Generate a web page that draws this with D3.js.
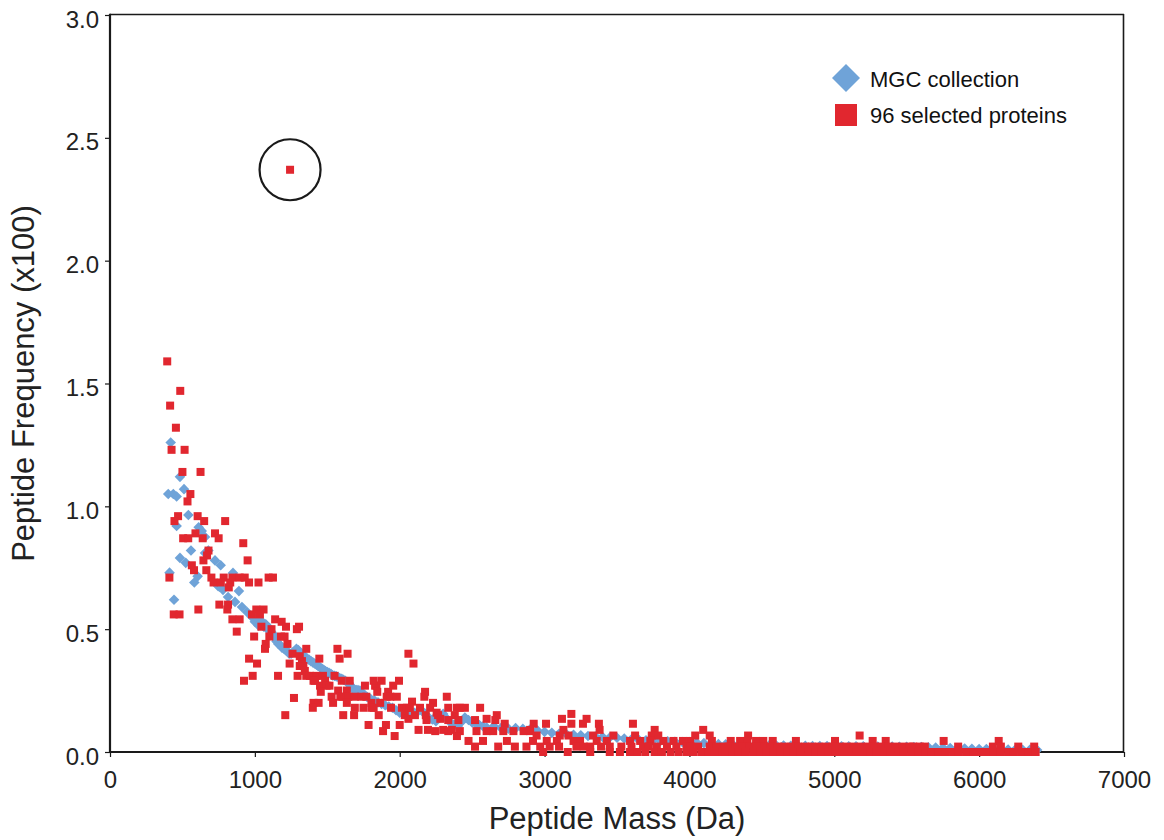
<!DOCTYPE html>
<html>
<head>
<meta charset="utf-8">
<script src="https://cdn.jsdelivr.net/npm/d3@7"></script>
<style>
  html, body { margin: 0; padding: 0; background: #ffffff; }
  svg { display: block; font-family: "Liberation Sans", Arial, Helvetica, sans-serif; }
</style>
</head>
<body>
<svg id="chart" width="1164" height="840"></svg>
<script>
// Axis ticks
const xTicks = [0, 1000, 2000, 3000, 4000, 5000, 6000, 7000];
const yTicks = [0, 0.5, 1.0, 1.5, 2.0, 2.5, 3.0];
const seriesNames = ["MGC collection", "96 selected proteins"];
const xTitle = "Peptide Mass (Da)";
const yTitle = "Peptide Frequency (x100)";

// MGC collection: [peptide mass (Da), frequency (x100)]
const mgcScatter = [
  [402,1.05],[419,1.26],[411,0.73],[437,1.05],[442,0.62],[460,1.04],[460,0.92],[483,1.12],
  [483,0.79],[511,1.07],[523,0.77],[541,0.965],[559,0.82],[582,0.69],[605,0.715],[612,0.915],
  [633,0.90],[656,0.875],[656,0.81],[679,0.82],[725,0.78],[747,0.675],[759,0.672],[764,0.76],
  [780,0.66],[815,0.631],[849,0.729],[863,0.611],[890,0.655],[911,0.59],[946,0.57],[980,0.55]
];
const mgcBand = [
  [1000,0.53],[1012,0.545],[1025,0.515],[1037,0.525],[1050,0.53],[1062,0.51],[1075,0.52],[1087,0.50],
  [1100,0.505],[1112,0.49],[1125,0.48],[1137,0.465],[1150,0.45],[1162,0.44],[1175,0.435],[1187,0.425],
  [1200,0.42],[1212,0.415],[1225,0.41],[1237,0.40],[1250,0.40],[1262,0.405],[1275,0.41],[1287,0.42],
  [1300,0.415],[1312,0.405],[1325,0.40],[1337,0.39],[1350,0.385],[1362,0.38],[1375,0.375],[1387,0.37],
  [1400,0.365],[1412,0.36],[1425,0.355],[1437,0.35],[1450,0.345],[1462,0.34],[1475,0.335],[1487,0.33],
  [1500,0.325],[1512,0.322],[1525,0.318],[1537,0.312],[1550,0.31],[1562,0.308],[1575,0.305],[1587,0.30],
  [1600,0.298],[1612,0.294],[1625,0.29],[1637,0.285],[1650,0.28],[1662,0.268],[1675,0.258],[1687,0.255],
  [1700,0.252],[1712,0.252],[1725,0.25],[1737,0.242],[1750,0.236],[1762,0.23],[1775,0.224],[1787,0.22],
  [1800,0.216],[1825,0.21],[1850,0.202],[1875,0.196],[1900,0.19],[1925,0.185],[1950,0.18],[1975,0.17],
  [2000,0.16],[2025,0.158],[2050,0.155],[2075,0.158],[2100,0.16],[2125,0.165],[2150,0.17],[2175,0.155],
  [2200,0.14],[2225,0.132],[2250,0.125],[2275,0.14],[2300,0.155],[2325,0.135],[2350,0.12],[2375,0.112],
  [2400,0.105],[2425,0.122],[2450,0.14],[2475,0.13],[2500,0.12],[2525,0.115],[2550,0.11],[2575,0.105],
  [2600,0.10],[2650,0.105],[2700,0.098],[2750,0.095],
  [2800,0.097],[2850,0.094],[2900,0.092],[2950,0.088],[3000,0.082],[3050,0.078],[3100,0.074],[3150,0.073],
  [3200,0.07],[3250,0.068],[3300,0.065],[3350,0.063],[3400,0.061],[3450,0.059],[3500,0.058],[3550,0.055],
  [3600,0.052],[3650,0.05],[3700,0.048],[3750,0.047],[3800,0.045],[3850,0.044],[3900,0.042],[3950,0.041],
  [4000,0.04],[4050,0.038],[4100,0.036],[4150,0.034],[4200,0.032],[4250,0.031],[4300,0.03],[4350,0.029],
  [4400,0.028],[4450,0.028],[4500,0.027],[4550,0.027],[4600,0.026],[4650,0.026],[4700,0.025],[4750,0.025],
  [4800,0.025],[4850,0.024],[4900,0.024],[4950,0.024],[5000,0.024],[5050,0.023],[5100,0.023],[5150,0.023],
  [5200,0.023],[5250,0.022],[5300,0.022],[5350,0.022],[5400,0.022],[5450,0.021],[5500,0.021],[5550,0.02],
  [5600,0.02],[5650,0.019],[5700,0.018],[5750,0.017],[5800,0.016],[5850,0.015],[5900,0.014],[5950,0.013],
  [6000,0.012],[6050,0.012],[6100,0.011],[6150,0.011],[6200,0.01],[6250,0.01],[6300,0.009],[6350,0.009],
  [6400,0.008]
];

// 96 selected proteins: [peptide mass (Da), frequency (x100)]
const selectedHead = [
  [395,1.59],[415,1.41],[455,1.32],[485,1.47],[425,1.23],[515,1.23],[500,1.14],[625,1.14],
  [555,1.05],[535,1.02],[470,0.96],[445,0.94],[605,0.96],[650,0.94],[795,0.94],[590,0.89],
  [725,0.89],[505,0.87],[540,0.87],[640,0.87],[750,0.87],[920,0.85],[680,0.82],[670,0.80],
  [645,0.78],[950,0.78],[565,0.76],[580,0.74],[665,0.74],[410,0.71],[700,0.71],[785,0.71],
  [845,0.71],[895,0.71],[930,0.71],[715,0.69],[765,0.69],[830,0.69],[960,0.69],[820,0.67],
  [755,0.60],[815,0.60],[810,0.58],[610,0.58],[440,0.56],[480,0.56],[980,0.56],[845,0.54],
  [895,0.54],[875,0.49],[995,0.47],[960,0.38],[985,0.31],[925,0.29]
];
const selectedBody = [
  [1095,0.71],[1125,0.71],[1025,0.69],[1010,0.58],[1060,0.58],[1035,0.56],[1140,0.54],[1185,0.53],
  [1215,0.51],[1045,0.51],[1290,0.50],[1305,0.51],[1115,0.50],[1100,0.47],[1075,0.44],[1070,0.42],
  [1180,0.47],[1205,0.47],[1225,0.44],[1355,0.42],[1570,0.42],[1260,0.40],[1015,0.36],[1240,0.36],
  [1325,0.37],[1335,0.35],[1310,0.39],[1310,0.35],[1445,0.38],[1585,0.38],[1640,0.40],[1160,0.31],
  [1295,0.31],[1345,0.33],[1355,0.31],[1380,0.31],[1425,0.31],[1470,0.31],[1405,0.29],[1415,0.29],
  [1485,0.29],[1450,0.27],[1495,0.27],[1515,0.27],[1550,0.31],[1600,0.29],[1655,0.29],[1575,0.25],
  [1635,0.25],[1455,0.245],[1270,0.22],[1530,0.225],[1590,0.225],[1605,0.225],[1645,0.225],[1690,0.225],
  [1735,0.225],[1770,0.225],[1405,0.20],[1440,0.20],[1400,0.18],[1540,0.20],[1635,0.20],[1210,0.15],
  [1610,0.15],[1685,0.15],[1760,0.27],[1830,0.27],[1840,0.27],[1820,0.29],[1875,0.29],[1995,0.29],
  [1845,0.245],[1920,0.245],[1955,0.27],[1690,0.18],[1750,0.18],[1805,0.18],[1865,0.20],[1805,0.20],
  [1820,0.18],[1855,0.15],[1910,0.225],[1935,0.225],[1980,0.225],[1940,0.18],[1785,0.11],[1905,0.11],
  [1885,0.085],[1965,0.065]
];
const selectedMid = [
  [2060,0.40],[2095,0.36],[2015,0.18],[2050,0.18],[2085,0.205],[2070,0.18],[2140,0.18],[2105,0.15],
  [2035,0.15],[2175,0.245],[2170,0.225],[2230,0.20],[2210,0.18],[2255,0.16],[2280,0.135],[2325,0.225],
  [2335,0.18],[2395,0.18],[2415,0.18],[2450,0.18],[2555,0.18],[2180,0.15],[2265,0.15],[2380,0.15],
  [2670,0.15],[2405,0.13],[2000,0.11],[2060,0.135],[2185,0.13],[2335,0.13],[2520,0.13],[2600,0.135],
  [2660,0.13],[2725,0.115],[2925,0.115],[2130,0.09],[2195,0.09],[2245,0.085],[2300,0.09],[2335,0.085],
  [2360,0.09],[2415,0.085],[2530,0.085],[2600,0.085],[2645,0.085],[2715,0.085],[2785,0.085],[2855,0.085],
  [2900,0.085],[2395,0.065],[2475,0.045],[2575,0.045],[2740,0.045],[2920,0.045],[2520,0.022],[2680,0.022],
  [2795,0.022],[2875,0.022]
];
const selectedTail = [
  [3185,0.155],[3120,0.135],[3290,0.135],[3010,0.115],[3185,0.115],[3265,0.115],[3375,0.115],[3610,0.115],
  [2900,0.09],[3130,0.09],[3380,0.09],[3760,0.09],[4095,0.09],[2945,0.067],[3105,0.067],[3165,0.067],
  [3335,0.067],[3475,0.067],[3625,0.067],[3740,0.067],[3785,0.067],[4040,0.067],[4140,0.067],
  [3015,0.045],[3085,0.045],[3200,0.045],[3245,0.045],[3360,0.045],[3430,0.045],[3590,0.045],[3660,0.045],
  [3730,0.045],[3820,0.045],[3890,0.045],[3955,0.045],[4005,0.045],[4155,0.045],
  [2970,0.022],[3035,0.022],[3220,0.022],[3315,0.022],[3450,0.022],[3530,0.022],[3680,0.022],[3775,0.022],
  [3845,0.022],[3910,0.022],[3980,0.022],[4060,0.022],[4140,0.022],[4235,0.022],[4010,0.022],[4185,0.022],
  [3600,0.022],[3720,0.022],[3100,0.022],[3270,0.022],[3390,0.022],
  [2990,0],[3315,0],[3520,0],[3590,0],[3695,0],[3760,0],[3925,0],[4085,0],[4210,0],
  [3810,0],[3870,0],[3980,0],[4030,0],[4130,0],[4170,0],[3640,0],[3450,0],[3160,0],
  [4405,0.067],[5175,0.067],
  [4285,0.045],[4350,0.045],[4400,0.045],[4460,0.045],[4510,0.045],[4575,0.045],[4735,0.045],[5005,0.045],
  [5265,0.045],[5355,0.045],[5755,0.045],[6135,0.045],
  [4270,0.022],[4320,0.022],[4365,0.022],[4415,0.022],[4465,0.022],[4515,0.022],[4560,0.022],[4610,0.022],
  [4655,0.022],[4705,0.022],[4750,0.022],[4800,0.022],[4845,0.022],[4895,0.022],[4945,0.022],[4990,0.022],
  [5040,0.022],[5085,0.022],[5135,0.022],[5185,0.022],[5230,0.022],[5280,0.022],[5325,0.022],[5375,0.022],
  [5420,0.022],[5470,0.022],[5520,0.022],[5545,0.022],[5590,0.022],[5625,0.022],[5855,0.022],[6095,0.022],
  [6150,0.022],[6270,0.022],[6380,0.022],
  [4250,0],[4300,0],[4340,0],[4390,0],[4440,0],[4490,0],[4530,0],[4580,0],[4630,0],[4680,0],
  [4720,0],[4770,0],[4820,0],[4870,0],[4910,0],[4960,0],[5010,0],[5060,0],[5100,0],[5150,0],
  [5200,0],[5250,0],[5290,0],[5340,0],[5390,0],[5440,0],[5480,0],[5530,0],[5580,0],[5630,0],
  [5670,0],[5720,0],[5770,0],[5820,0],[5860,0],[5910,0],[5960,0],[6010,0],[6050,0],[6100,0],
  [6150,0],[6200,0],[6240,0],[6290,0],[6340,0],[6390,0]
];
// Single peptide that stands out, ringed on the chart
const highlighted = [1243, 2.37];

const colors = { mgc: "#6fa3d8", selected: "#e1272f", ink: "#1a1a1a" };

const svg = d3.select("#chart");
const plot = { left: 110, right: 1124, top: 15, bottom: 752 };

const x = d3.scaleLinear().domain([0, 7000]).range([plot.left, plot.right]);
const y = d3.scaleLinear().domain([0, 3]).range([plot.bottom, plot.top]);

// Axes
const xAxis = d3.axisBottom(x).tickValues(xTicks).tickSize(5).tickSizeOuter(0).tickPadding(14)
  .tickFormat(d3.format("d"));
const yAxis = d3.axisLeft(y).tickValues(yTicks).tickSize(5).tickSizeOuter(0).tickPadding(6)
  .tickFormat(d3.format(".1f"));

const gx = svg.append("g").attr("transform", `translate(0,${plot.bottom})`).call(xAxis);
const gy = svg.append("g").attr("transform", `translate(${plot.left},0)`).call(yAxis);
[gx, gy].forEach(g => {
  g.select(".domain").remove();
  g.selectAll(".tick line").attr("stroke", colors.ink).attr("stroke-width", 1.2);
  g.selectAll(".tick text").attr("fill", "#222").style("font-size", "24px");
});
gy.selectAll(".tick text").attr("dy", "0.5em");
gx.selectAll(".tick text").attr("dy", "0.71em");

// Plot frame
const frame = svg.append("g").attr("stroke", colors.ink).attr("fill", "none");
frame.append("line").attr("x1", plot.left).attr("x2", plot.right).attr("y1", plot.top - 0.5).attr("y2", plot.top - 0.5).attr("stroke-width", 1.6);
frame.append("line").attr("x1", plot.right - 0.5).attr("x2", plot.right - 0.5).attr("y1", plot.top - 1).attr("y2", plot.bottom).attr("stroke-width", 1.6);
frame.append("line").attr("x1", plot.left).attr("x2", plot.left).attr("y1", plot.top - 1.3).attr("y2", plot.bottom + 1).attr("stroke-width", 2.2);
frame.append("line").attr("x1", plot.left - 1).attr("x2", plot.right).attr("y1", plot.bottom).attr("y2", plot.bottom).attr("stroke-width", 2.2);

// Axis titles
svg.append("text")
  .attr("x", (plot.left + plot.right) / 2).attr("y", 829)
  .attr("text-anchor", "middle").attr("fill", "#222")
  .style("font-size", "31px").text(xTitle);
svg.append("text")
  .attr("transform", `translate(34,${(plot.top + plot.bottom) / 2}) rotate(-90)`)
  .attr("text-anchor", "middle").attr("fill", "#222")
  .style("font-size", "31px").text(yTitle);

// Marks
const diamond = r => `M0,${-r}L${r},0L0,${r}L${-r},0Z`;

const mgcData = mgcScatter.concat(mgcBand);
svg.append("g").selectAll("path").data(mgcData).join("path")
  .attr("d", diamond(5.3))
  .attr("transform", d => `translate(${x(d[0])},${y(d[1])})`)
  .attr("fill", colors.mgc);

const selectedData = selectedHead.concat(selectedBody, selectedMid, selectedTail, [highlighted]);
const sq = 8;
svg.append("g").selectAll("rect").data(selectedData).join("rect")
  .attr("x", d => x(d[0]) - sq / 2)
  .attr("y", d => y(d[1]) - sq / 2)
  .attr("width", sq).attr("height", sq)
  .attr("fill", colors.selected);

// Ring around the highlighted peptide
svg.append("circle")
  .attr("cx", x(highlighted[0])).attr("cy", y(highlighted[1])).attr("r", 30.5)
  .attr("fill", "none").attr("stroke", colors.ink).attr("stroke-width", 2.2);

// Legend
const legend = svg.append("g").attr("transform", "translate(846,0)");
legend.append("path").attr("d", diamond(14)).attr("transform", "translate(0,78)").attr("fill", colors.mgc);
legend.append("rect").attr("x", -11).attr("y", 104).attr("width", 22).attr("height", 22).attr("fill", colors.selected);
legend.selectAll("text").data(seriesNames).join("text")
  .attr("x", 24).attr("y", (d, i) => i === 0 ? 87 : 123)
  .attr("fill", "#111").style("font-size", "22px")
  .text(d => d);
</script>
</body>
</html>
